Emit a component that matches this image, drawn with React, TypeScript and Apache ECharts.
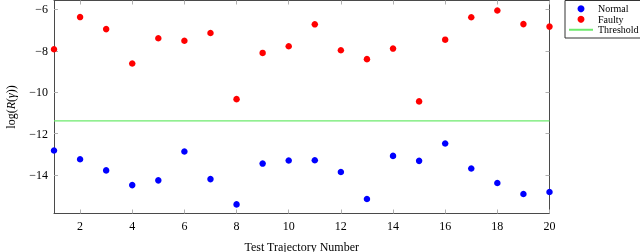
import React, { useEffect, useRef } from "react";
import * as echarts from "echarts";

const trajectories = [1, 2, 3, 4, 5, 6, 7, 8, 9, 10, 11, 12, 13, 14, 15, 16, 17, 18, 19, 20];
const normalValues = [-12.81, -13.23, -13.77, -14.48, -14.25, -12.86, -14.19, -15.41, -13.44, -13.29, -13.28, -13.85, -15.15, -13.07, -13.31, -12.47, -13.68, -14.38, -14.91, -14.81];
const faultyValues = [-7.92, -6.37, -6.95, -8.61, -7.39, -7.51, -7.14, -10.33, -8.1, -7.78, -6.72, -7.97, -8.4, -7.89, -10.44, -7.46, -6.38, -6.05, -6.71, -6.83];
const thresholdValue = -11.38;
const xTicks = [2, 4, 6, 8, 10, 12, 14, 16, 18, 20];
const yTicks = [-14, -12, -10, -8, -6];

const FONT = "Liberation Serif";
const GREEN = "#6cea6c";

export default function App() {
  const ref = useRef<HTMLDivElement>(null);
  useEffect(() => {
    if (!ref.current) return;
    const chart = echarts.init(ref.current, undefined, { renderer: "svg" });
    const fmt = (v: number) => (v < 0 ? "\u2212" + Math.abs(v) : String(v));
    const lineCol = "#4a4a4a";
    const tickCol = "#b0b0b0";
    const baseX = {
      type: "value",
      min: 1,
      max: 20,
      splitLine: { show: false },
      axisLine: { show: true, lineStyle: { color: lineCol, width: 1 } },
      axisTick: { show: true, inside: true, length: 4, customValues: xTicks, lineStyle: { color: tickCol } },
    };
    const baseY = {
      type: "value",
      min: -15.85,
      max: -5.57,
      splitLine: { show: false },
      axisLine: { show: true, lineStyle: { color: lineCol, width: 1 } },
      axisTick: { show: true, inside: true, length: 4, customValues: yTicks, lineStyle: { color: tickCol } },
    };
    chart.setOption({
      animation: false,
      textStyle: { fontFamily: FONT },
      grid: { left: 54, right: 90.5, top: 0.5, bottom: 38.5, containLabel: false, outerBoundsMode: "none" },
      xAxis: [
        {
          ...baseX,
          position: "bottom",
          name: "Test Trajectory Number",
          nameLocation: "middle",
          nameGap: 27,
          nameTextStyle: { fontFamily: FONT, fontSize: 12, color: "#000" },
          axisLabel: { customValues: xTicks, fontFamily: FONT, fontSize: 12, color: "#000", margin: 6, formatter: fmt },
        },
        { ...baseX, position: "top", axisLabel: { show: false } },
      ],
      yAxis: [
        {
          ...baseY,
          position: "left",
          name: "log({i|R}({i|γ}))",
          nameLocation: "middle",
          nameGap: 37,
          nameTextStyle: {
            fontFamily: FONT,
            fontSize: 12,
            color: "#000",
            rich: { i: { fontFamily: FONT, fontSize: 12, fontStyle: "italic", color: "#000" } },
          },
          axisLabel: { customValues: yTicks, fontFamily: FONT, fontSize: 12, color: "#000", margin: 6, formatter: fmt },
        },
        { ...baseY, position: "right", axisLabel: { show: false } },
      ],
      legend: {
        left: 565,
        top: 0.5,
        orient: "vertical",
        itemGap: 0,
        itemWidth: 24,
        itemHeight: 7,
        padding: [3, 2, 3, 3],
        borderColor: "#333",
        borderWidth: 1,
        backgroundColor: "#fff",
        textStyle: { fontFamily: FONT, fontSize: 10, color: "#000", lineHeight: 10.5 },
        data: [
          { name: "Normal", icon: "circle" },
          { name: "Faulty", icon: "circle" },
          { name: "Threshold", itemStyle: { opacity: 0 } },
        ],
      },
      series: [
        {
          name: "Normal",
          type: "scatter",
          symbol: "circle",
          symbolSize: 6.5,
          itemStyle: { color: "#0000ff", opacity: 1 },
          data: trajectories.map((t, i) => [t, normalValues[i]]),
          clip: false,
        },
        {
          name: "Faulty",
          type: "scatter",
          symbol: "circle",
          symbolSize: 6.5,
          itemStyle: { color: "#ff0000", opacity: 1 },
          data: trajectories.map((t, i) => [t, faultyValues[i]]),
          clip: false,
        },
        {
          name: "Threshold",
          type: "line",
          symbol: "none",
          lineStyle: { color: GREEN, width: 1.3 },
          itemStyle: { color: GREEN },
          data: [
            [trajectories[0], thresholdValue],
            [trajectories[trajectories.length - 1], thresholdValue],
          ],
        },
      ],
    });
    return () => chart.dispose();
  }, []);
  return <div ref={ref} style={{ position: "fixed", left: 0, top: 0, width: 640, height: 252 }} />;
}
